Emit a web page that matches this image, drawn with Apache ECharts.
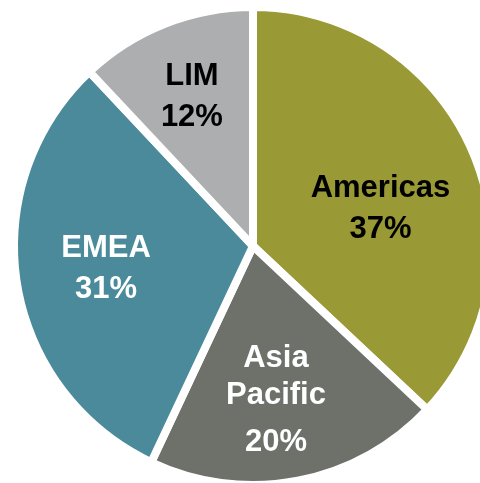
<!DOCTYPE html>
<html><head><meta charset="utf-8">
<script src="https://cdn.jsdelivr.net/npm/echarts@6/dist/echarts.min.js"></script>
<style>html,body{margin:0;padding:0;background:#fff}#c{width:480px;height:483px}</style>
</head><body><div id="c"></div>
<script>
const categories = ['Americas', 'Asia Pacific', 'EMEA', 'LIM'];
const labelTexts = ['Americas', 'Asia\nPacific', 'EMEA', 'LIM'];
const values = [37, 20, 31, 12];
const colors = ['#999a35', '#6e706a', '#4a8a9a', '#adaeb0'];
const textColors = ['#000000', '#ffffff', '#ffffff', '#000000'];
const labelOffsets = [[15, 12], [0, 39], [-26, 4], [-16, -35]];

const data = categories.map((name, i) => ({
  name, value: values[i],
  itemStyle: { color: colors[i] },
  label: {
    color: textColors[i],
    offset: labelOffsets[i],
    formatter: i === 1
      ? '{a|Asia}\n{a|Pacific}\n{b|' + values[i] + '%}'
      : '{c|' + labelTexts[i] + '}\n{c|' + values[i] + '%}',
  }
}));

const chart = echarts.init(document.getElementById('c'));
chart.setOption({
  animation: false,
  series: [{
    type: 'pie',
    center: [253, 246],
    radius: [0, 239],
    startAngle: 90,
    clockwise: true,
    label: {
      show: true,
      position: 'inside',
      fontFamily: 'Liberation Sans, Arial, sans-serif',
      fontWeight: 'bold',
      fontSize: 31,
      align: 'center',
      rich: {
        a: { fontFamily: 'Liberation Sans', fontWeight: 'bold', fontSize: 31, lineHeight: 37 },
        b: { fontFamily: 'Liberation Sans', fontWeight: 'bold', fontSize: 31, lineHeight: 57 },
        c: { fontFamily: 'Liberation Sans', fontWeight: 'bold', fontSize: 31, lineHeight: 41 }
      }
    },
    labelLine: { show: false },
    itemStyle: { borderColor: '#ffffff', borderWidth: 8 },
    emphasis: { disabled: true },
    data
  }]
});
</script></body></html>
